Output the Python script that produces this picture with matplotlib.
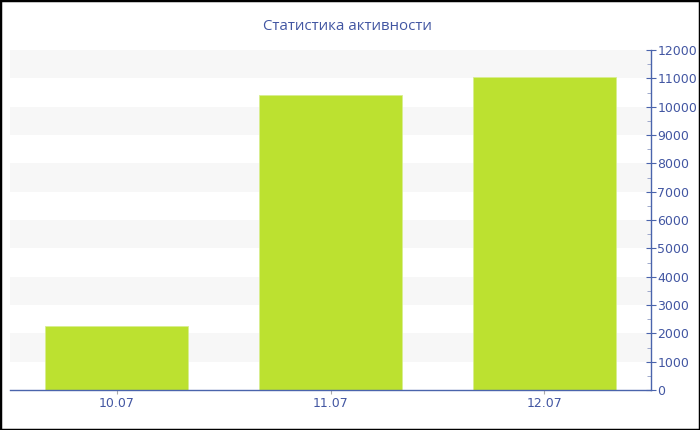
import matplotlib.pyplot as plt
from matplotlib.patches import Rectangle

# data
dates = ['10.07', '11.07', '12.07']
activity = [2260, 10420, 11060]
y_ticks = list(range(0, 13000, 1000))

text_color = '#4256a2'
axis_color = '#4a64ac'
bar_color = '#bce130'
band_color = '#f7f7f7'

fig = plt.figure(figsize=(7, 4.3), dpi=100)
ax = fig.add_axes([10/700, 40/430, 641/700, 340/430])

# alternating horizontal bands
for lo in y_ticks[1:-1:2]:
    ax.axhspan(lo, lo + 1000, color=band_color, zorder=0, lw=0)

x = range(len(dates))
ax.bar(x, activity, width=0.67, color=bar_color, edgecolor='#d8ee90', linewidth=0.6, zorder=2)

ax.set_xlim(-0.5, len(dates) - 0.5)
ax.set_ylim(0, 12000)
ax.set_xticks(list(x))
ax.set_xticklabels(dates)
ax.set_yticks(y_ticks)
ax.set_yticks([v + 500 for v in y_ticks[:-1]], minor=True)

ax.yaxis.tick_right()
for side in ['top', 'left']:
    ax.spines[side].set_visible(False)
ax.spines['right'].set_color(axis_color)
ax.spines['bottom'].set_color(axis_color)
ax.spines['right'].set_linewidth(1)
ax.spines['bottom'].set_linewidth(1)

ax.tick_params(axis='y', which='major', direction='inout', length=7, color=axis_color,
               labelcolor=text_color, labelsize=9, pad=1)
ax.tick_params(axis='y', which='minor', direction='in', length=3, color='#8f9cc4')
ax.tick_params(axis='x', direction='out', length=3, color='#aaaaaa',
               labelcolor=text_color, labelsize=9, pad=2)

fig.text(0.497, 1 - 26/430, 'Статистика активности', ha='center', va='center',
         color=text_color, fontsize=10.8, family='Open Sans')

# dark outer frame
fig.patches.append(Rectangle((0, 0), 1, 1, transform=fig.transFigure, fill=False,
                             edgecolor='black', linewidth=2.5))

fig.savefig('out.png', dpi=100)
